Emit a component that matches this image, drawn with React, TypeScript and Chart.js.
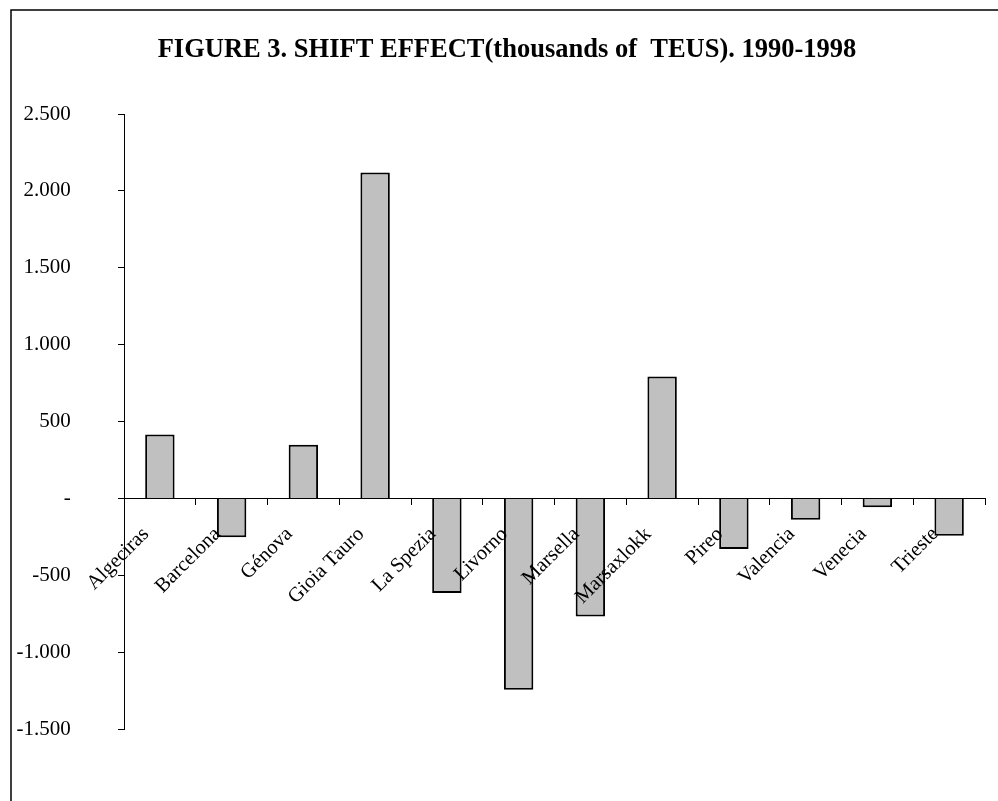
import React, { useEffect, useRef } from "react";
import { Chart, registerables } from "chart.js";

Chart.register(...registerables);

const TITLE = "FIGURE 3. SHIFT EFFECT(thousands of  TEUS). 1990-1998";
const categories = [
  "Algeciras",
  "Barcelona",
  "Génova",
  "Gioia Tauro",
  "La Spezia",
  "Livorno",
  "Marsella",
  "Marsaxlokk",
  "Pireo",
  "Valencia",
  "Venecia",
  "Trieste",
];
const shiftEffect = [415, -253, 348, 2120, -615, -1245, -769, 792, -329, -139, -58, -243];
const yMin = -1500;
const yMax = 2500;
const yStep = 500;

const SERIF = "'Liberation Serif', 'Times New Roman', serif";

function formatTick(v: number): string {
  if (v === 0) return "-";
  const sign = v < 0 ? "-" : "";
  const s = Math.abs(Math.round(v)).toString();
  return sign + s.replace(/\B(?=(\d{3})+(?!\d))/g, ".");
}

const frame = {
  id: "frame",
  beforeDraw(chart: any) {
    const ctx = chart.ctx;
    ctx.save();
    ctx.fillStyle = "#ffffff";
    ctx.fillRect(0, 0, chart.width, chart.height);
    ctx.strokeStyle = "#000000";
    ctx.lineWidth = 1.5;
    ctx.beginPath();
    ctx.moveTo(11, chart.height);
    ctx.lineTo(11, 10);
    ctx.lineTo(chart.width, 10);
    ctx.stroke();
    ctx.restore();
  },
};

export default function App() {
  const ref = useRef<HTMLCanvasElement>(null);
  useEffect(() => {
    if (!ref.current) return;
    const chart = new Chart(ref.current, {
      type: "bar",
      data: {
        labels: categories,
        datasets: [
          {
            data: shiftEffect,
            backgroundColor: "#c0c0c0",
            borderColor: "#000000",
            borderWidth: 2,
            categoryPercentage: 1,
            barPercentage: 0.41,
            yAxisID: "y",
          },
        ],
      },
      options: {
        animation: false,
        responsive: false,
        devicePixelRatio: 1,
        layout: { padding: { left: 16, right: 0, top: 0, bottom: 72 } },
        plugins: {
          legend: { display: false },
          tooltip: { enabled: false },
          title: {
            display: true,
            text: TITLE,
            color: "#000000",
            font: { family: SERIF, size: 26.5, weight: "bold" },
            padding: { top: 34, bottom: 48.2 },
          },
        },
        scales: {
          x: {
            position: { y: 0 } as any,
            afterFit: (s: any) => {
              s.height = 0;
            },
            grid: {
              display: true,
              drawOnChartArea: false,
              drawTicks: true,
              tickLength: 6,
              tickColor: "#000000",
              offset: true,
              z: 1,
            },
            border: { display: true, color: "#000000", width: 1, z: 1 },
            ticks: {
              color: "#000000",
              font: { family: SERIF, size: 20.5 },
              minRotation: 45,
              maxRotation: 45,
              autoSkip: false,
              padding: 18,
              labelOffset: -14,
              z: 1,
            },
          },
          y: {
            min: yMin,
            max: yMax,
            afterFit: (s: any) => {
              s.width = 108;
            },
            grid: {
              display: true,
              drawOnChartArea: false,
              drawTicks: true,
              tickLength: 6,
              tickColor: "#000000",
            },
            border: { display: true, color: "#000000", width: 1 },
            ticks: {
              stepSize: yStep,
              color: "#000000",
              padding: 47.3,
              font: { family: SERIF, size: 21 },
              callback: (v: any) => formatTick(Number(v)),
            },
          },
          yRight: {
            position: "right",
            display: true,
            afterFit: (s: any) => {
              s.width = 13;
            },
            grid: { display: false },
            border: { display: false },
            ticks: { display: false },
          },
        },
      },
      plugins: [frame],
    });
    return () => chart.destroy();
  }, []);
  return (
    <div style={{ position: "absolute", left: 0, top: 0, width: 998, height: 801, background: "#fff" }}>
      <canvas ref={ref} width={998} height={801} style={{ display: "block" }} />
    </div>
  );
}
